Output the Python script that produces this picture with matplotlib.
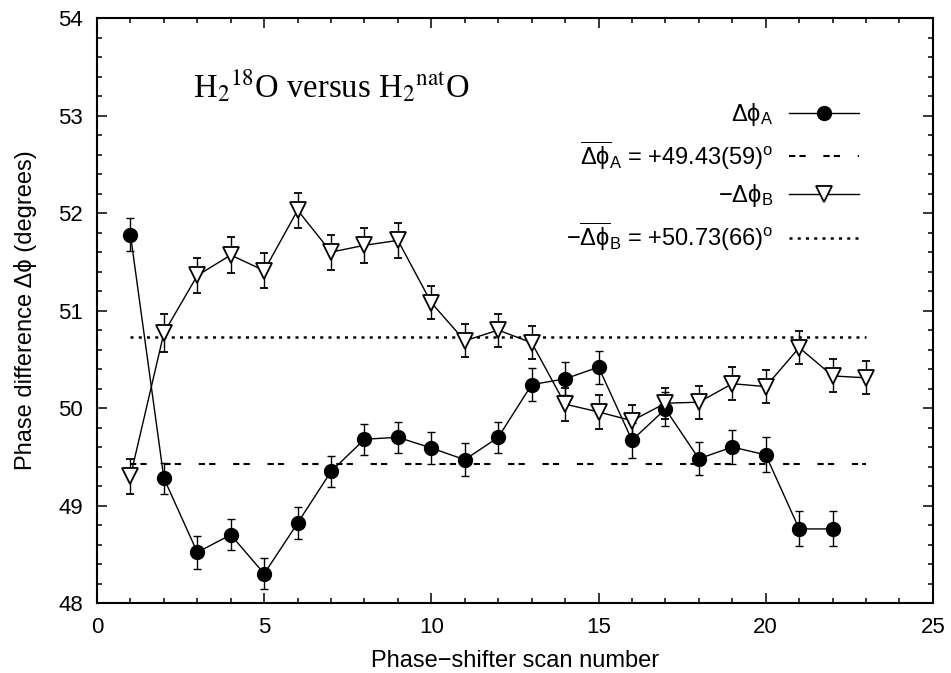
import matplotlib.pyplot as plt
from matplotlib.lines import Line2D
from matplotlib.ticker import MultipleLocator

# --- Data ---
scan_a = list(range(1, 23))
phase_a = [51.78, 49.28, 48.52, 48.70, 48.30, 48.82, 49.35, 49.68, 49.70, 49.59, 49.47,
           49.70, 50.24, 50.30, 50.42, 49.67, 49.99, 49.48, 49.60, 49.52, 48.76, 48.76]
err_a = [0.17, 0.16, 0.17, 0.16, 0.16, 0.16, 0.16, 0.16, 0.16, 0.16, 0.17,
         0.16, 0.17, 0.17, 0.17, 0.18, 0.17, 0.17, 0.17, 0.18, 0.18, 0.18]

scan_b = list(range(1, 24))
phase_b = [49.30, 50.77, 51.36, 51.57, 51.41, 52.03, 51.60, 51.67, 51.72, 51.08, 50.69, 50.80,
           50.67, 50.04, 49.96, 49.87, 50.05, 50.06, 50.25, 50.22, 50.62, 50.33, 50.31]
err_b = [0.18, 0.19, 0.18, 0.18, 0.18, 0.18, 0.18, 0.18, 0.18, 0.17, 0.17, 0.17,
         0.17, 0.17, 0.17, 0.16, 0.16, 0.17, 0.17, 0.17, 0.17, 0.17, 0.17]

mean_a = 49.43
mean_b = 50.73
mean_span = [1, 23]

labels = [r'Δϕ$_\mathrm{A}$',
          r'$\overline{\mathrm{Δϕ}}_\mathrm{A}$ = +49.43(59)$^\mathrm{o}$',
          r'−Δϕ$_\mathrm{B}$',
          r'−$\overline{\mathrm{Δϕ}}_\mathrm{B}$ = +50.73(66)$^\mathrm{o}$']

plt.rcParams['font.family'] = ['Liberation Sans', 'DejaVu Sans']
plt.rcParams['mathtext.fontset'] = 'custom'
plt.rcParams['mathtext.rm'] = 'Liberation Sans'
plt.rcParams['mathtext.it'] = 'Liberation Sans'
plt.rcParams['mathtext.bf'] = 'Liberation Sans'

fig = plt.figure(figsize=(9.51, 6.73), dpi=100)
ax = fig.add_axes([0.102, 0.104, 0.879, 0.869])

dash_a = (0, (3, 2, 3, 8.5))
dot_b = (0, (1.2, 2.1))

ax.errorbar(scan_a, phase_a, yerr=err_a, fmt='-o', color='black', lw=1.0,
            ms=10, elinewidth=1.0, capsize=3, capthick=1.0)
ax.plot(mean_span, [mean_a, mean_a], ls=dash_a, color='black', lw=1.5)
ax.errorbar(scan_b, phase_b, yerr=err_b, fmt='-v', color='black', mfc='white',
            mec='black', mew=1.3, lw=1.0, ms=11, elinewidth=1.0, capsize=3,
            capthick=1.0)
ax.plot(mean_span, [mean_b, mean_b], ls=dot_b, color='black', lw=1.8)

ax.set_xlim(0, 25)
ax.set_ylim(48, 54)
ax.xaxis.set_major_locator(MultipleLocator(5))
ax.xaxis.set_minor_locator(MultipleLocator(1))
ax.yaxis.set_major_locator(MultipleLocator(1))
ax.yaxis.set_minor_locator(MultipleLocator(0.2))
ax.tick_params(which='both', direction='in', top=True, right=True, labelsize=16, width=1.1)
ax.tick_params(which='major', length=7, pad=10)
ax.tick_params(which='minor', length=3.6)
for s in ax.spines.values():
    s.set_linewidth(1.5)

ax.set_xlabel('Phase−shifter scan number', fontsize=17)
ax.set_ylabel('Phase difference Δϕ (degrees)', fontsize=17)
ax.xaxis.set_label_coords(0.5, -0.08)
ax.yaxis.set_label_coords(-0.072, 0.5)

ax.text(0.115, 0.865, r'H$_2$$^{18}$O versus H$_2$$^{\mathrm{nat}}$O', transform=ax.transAxes,
        fontsize=23.5, family='Liberation Serif', math_fontfamily='stix', va='baseline')

# Legend: gnuplot style, text on the left, sample on the right
handles = [Line2D([], [], color='black', lw=1.0, marker='o', ms=10),
           Line2D([], [], color='black', lw=1.5, ls=dash_a),
           Line2D([], [], color='black', lw=1.0, marker='v', ms=11, mfc='white', mew=1.3),
           Line2D([], [], color='black', lw=1.8, ls=dot_b)]
ax.legend(handles, labels, loc='upper right', bbox_to_anchor=(0.912, 0.858),
          markerfirst=False, frameon=False, handlelength=3.0, labelspacing=0.45,
          fontsize=17, handletextpad=0.64, borderpad=0, borderaxespad=0)

fig.savefig('out.png', dpi=100)
